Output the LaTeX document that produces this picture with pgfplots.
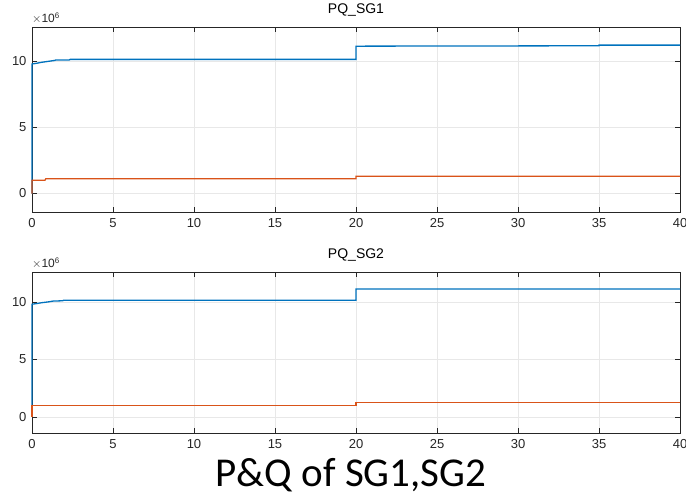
\documentclass[border=0pt]{standalone}
\usepackage{fontspec}
\setmainfont{Liberation Sans}
\newfontfamily\capfont{Carlito}
\usepackage{pgfplots}
\pgfplotsset{compat=1.18}
\definecolor{mblue}{rgb}{0,0.447,0.741}
\definecolor{morange}{rgb}{0.850,0.325,0.098}
\definecolor{maxis}{gray}{0.15}
\pgfplotsset{
  mstyle/.style={
    scale only axis, width=648pt,
    xmin=0, xmax=40, ymin=-1.4, ymax=12.6,
    xtick={0,5,...,40}, ytick={0,5,10},
    scaled y ticks=false,
    grid=major, major grid style={gray!18, line width=0.5pt},
    tick align=inside, major tick length=5pt,
    axis line style={maxis, line width=0.6pt},
    tick style={maxis, line width=0.6pt},
    every tick label/.style={font=\fontsize{13}{15}\selectfont, text=maxis},
    /pgf/number format/assume math mode=true,
    xticklabel style={yshift=-3pt},
    yticklabel style={xshift=-2pt},
    title style={font=\fontsize{14}{16}\selectfont, text=black, at={(0.5,1)}, anchor=south, yshift=1pt},
    clip=false,
  }
}
\begin{document}
\begin{tikzpicture}
\useasboundingbox (0,0) rectangle (686pt,-496pt);
\begin{axis}[mstyle, at={(32pt,-212pt)}, anchor=south west, height=185pt, title={PQ\_SG1}]
\addplot[mblue, line width=1.3pt] coordinates {(0,0) (0,9.8) (0.3,9.86) (0.6,9.93) (1.0,10.0) (1.4,10.07) (1.45,10.1) (2.3,10.1) (2.35,10.15) (20,10.15) (20,11.15) (35,11.18) (35,11.23) (40,11.23)};
\addplot[morange, line width=1.3pt] coordinates {(0,0) (0,1.0) (0.8,1.0) (0.85,1.12) (20,1.12) (20,1.3) (40,1.3)};
\node[anchor=south west, inner sep=0pt, text=maxis, font=\fontsize{12}{14}\selectfont] at (rel axis cs:0,1) [yshift=3pt] {$\times$10\textsuperscript{6}};
\end{axis}
\begin{axis}[mstyle, at={(32pt,-433pt)}, anchor=south west, height=161pt, title={PQ\_SG2}]
\addplot[mblue, line width=1.3pt] coordinates {(0,0) (0,9.8) (0.3,9.86) (0.6,9.93) (1.0,10.0) (1.3,10.07) (1.9,10.1) (1.95,10.15) (20,10.15) (20,11.12) (40,11.12)};
\addplot[morange, line width=1.3pt] coordinates {(0,0) (0,0.98) (20,0.98) (20,1.27) (40,1.27)};
\node[anchor=south west, inner sep=0pt, text=maxis, font=\fontsize{12}{14}\selectfont] at (rel axis cs:0,1) [yshift=3pt] {$\times$10\textsuperscript{6}};
\end{axis}
\node[font=\capfont\fontsize{41}{45}\selectfont, anchor=base] at (351pt,-486pt) {P\&Q of SG1,SG2};
\end{tikzpicture}
\end{document}
